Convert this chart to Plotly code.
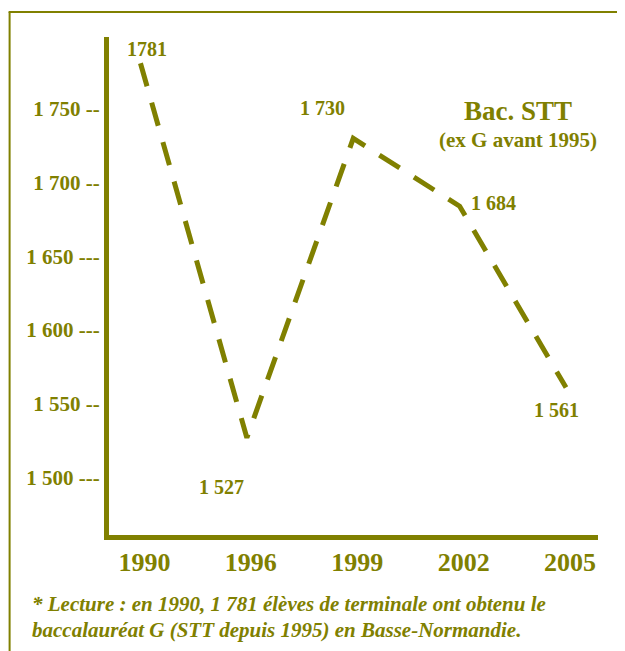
import plotly.graph_objects as go

years = ["1990", "1996", "1999", "2002", "2005"]
values = [1781, 1527, 1730, 1684, 1561]
value_labels = ["1781", "1 527", "1 730", "1 684", "1 561"]
y_tick_vals = [1500, 1550, 1600, 1650, 1700, 1750]
y_tick_text = ["1 500 ---", "1 550 --", "1 600 ---", "1 650 ---", "1 700 --", "1 750 --"]
title_main = "Bac. STT"
title_sub = "(ex G avant 1995)"
footnote = ["* Lecture : en 1990, 1 781 élèves de terminale ont obtenu le",
            "baccalauréat G (STT depuis 1995) en Basse-Normandie."]

OLIVE = "#808000"
FONT = "Liberation Serif"

OFF = 8  # page body margin
# plot area in page pixels (reference coordinates)
PL, PR, PT, PB = 108.5, 598, 37, 535.5
W, H = 625 - OFF, 651 - OFF
L, R, T, B = PL - OFF, PR - OFF, PT - OFF, PB - OFF

def px_x(p):
    return (p - OFF - L) / (R - L)

def px_y(p):
    return (B - (p - OFF)) / (B - T)

# y range chosen so 1500 -> page y 478 and 1750 -> page y 109
k = (478 - 109) / 250.0
y_lo = 1500 - (PB - 478) / k
y_hi = 1750 + (109 - PT) / k
# x range: index 0 -> page x 140, spacing 106.5 px
sp = 106.5
x_lo = -(140 - PL) / sp
x_hi = (PR - PL) / sp + x_lo

idx = list(range(len(years)))

fig = go.Figure()
fig.add_trace(go.Scatter(
    x=idx, y=values, mode="lines",
    line=dict(color=OLIVE, width=5, dash="24px,17px"),
    hoverinfo="skip", showlegend=False,
))

# label offsets (pixels)
offsets = [(7, 14), (-25, -49), (-31, 30), (34, 3), (-10, -22)]
annotations = []
for i, (v, lab) in enumerate(zip(values, value_labels)):
    dx, dy = offsets[i]
    annotations.append(dict(
        x=i, y=v, xref="x", yref="y", text=lab, showarrow=False,
        xshift=dx, yshift=dy, xanchor="center", yanchor="middle",
        font=dict(family=FONT, size=20, color=OLIVE, weight="bold"),
    ))

annotations.append(dict(x=px_x(518), y=px_y(111), xref="paper", yref="paper",
                        text=title_main, showarrow=False, xanchor="center", yanchor="middle",
                        font=dict(family=FONT, size=27, color=OLIVE, weight="bold")))
annotations.append(dict(x=px_x(518), y=px_y(140), xref="paper", yref="paper",
                        text=title_sub, showarrow=False, xanchor="center", yanchor="middle",
                        font=dict(family=FONT, size=21, color=OLIVE, weight="bold")))
for kk, line in enumerate(footnote):
    annotations.append(dict(x=px_x(29), y=px_y(605 + 26 * kk), xref="paper", yref="paper",
                            xanchor="left", yanchor="middle", text=line, showarrow=False,
                            font=dict(family=FONT, size=21, color=OLIVE,
                                      weight="bold", style="italic")))

shapes = [
    dict(type="line", xref="paper", yref="paper",
         x0=px_x(8), x1=px_x(640), y0=px_y(12), y1=px_y(12),
         line=dict(color=OLIVE, width=2)),
    dict(type="line", xref="paper", yref="paper",
         x0=px_x(9), x1=px_x(9), y0=px_y(12), y1=px_y(670),
         line=dict(color=OLIVE, width=2)),
]

fig.update_layout(
    width=W, height=H,
    margin=dict(l=L, r=W - R, t=T, b=H - B, pad=0),
    paper_bgcolor="white", plot_bgcolor="white",
    annotations=annotations, shapes=shapes,
    showlegend=False,
)
fig.update_xaxes(
    range=[x_lo, x_hi], tickmode="array", tickvals=idx, ticktext=years,
    showgrid=False, zeroline=False, showline=True, linewidth=5, linecolor=OLIVE,
    ticks="", tickfont=dict(family=FONT, size=26, color=OLIVE, weight="bold"),
    ticklabelstandoff=0, ticklabelshift=4,
)
fig.update_yaxes(
    range=[y_lo, y_hi], tickmode="array", tickvals=y_tick_vals, ticktext=y_tick_text,
    showgrid=False, zeroline=False, showline=True, linewidth=5, linecolor=OLIVE,
    ticks="", tickfont=dict(family=FONT, size=21, color=OLIVE, weight="bold"),
    ticklabelstandoff=0,
)

fig.write_html("out.html")
